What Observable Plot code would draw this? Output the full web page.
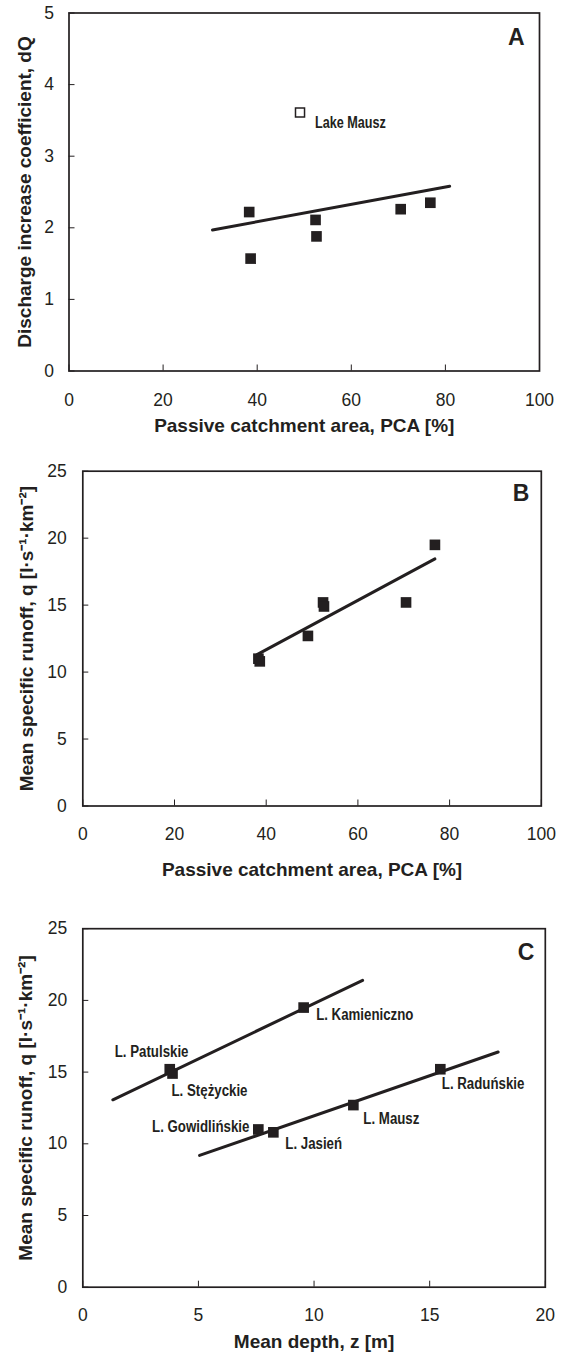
<!DOCTYPE html>
<html>
<head>
<meta charset="utf-8">
<script src="https://cdn.jsdelivr.net/npm/d3@7"></script>
<script src="https://cdn.jsdelivr.net/npm/@observablehq/plot@0.6"></script>
<style>
  html, body { margin: 0; padding: 0; background: #fff; }
  #chart svg { display: block; }
</style>
</head>
<body>
<div id="chart"></div>
<script>
// ---- data ----
const lakes  = ["Patulskie", "Stężyckie", "Gowidlińskie", "Jasień", "Mausz", "Raduńskie", "Kamieniczno"];
const pca    = [52.4, 52.6, 38.3, 38.6, 49.1, 70.5, 76.8];   // Passive catchment area [%]
const dQ     = [2.11, 1.88, 2.22, 1.57, 3.61, 2.26, 2.35];   // discharge increase coefficient
const runoff = [15.2, 14.9, 11.0, 10.8, 12.7, 15.2, 19.5];   // mean specific runoff q
const depth  = [3.76, 3.88, 7.59, 8.24, 11.7, 15.46, 9.55];  // mean depth z [m]
const outlierA = "Mausz";

// trend lines (end points)
const trendA_x = [30.5, 80.9],  trendA_y = [1.97, 2.58];
const trendB_x = [38.0, 76.8],  trendB_y = [11.3, 18.45];
const trendC1_x = [1.3, 12.1],  trendC1_y = [13.07, 21.4];
const trendC2_x = [5.05, 17.96], trendC2_y = [9.19, 16.4];

const ticksPCA = [0, 20, 40, 60, 80, 100];
const ticksDQ = [0, 1, 2, 3, 4, 5];
const ticksQ = [0, 5, 10, 15, 20, 25];
const ticksZ = [0, 5, 10, 15, 20];

// ---- styling ----
const INK = "#231f20";
const FONT = "'Liberation Sans', Arial, Helvetica, sans-serif";
const NARROW = "Liberation Sans, Arial, Helvetica, sans-serif"; // drawn horizontally condensed below
const TICK_FS = 17.5, TITLE_FS = 19;

const idx = lakes.map((_, i) => i);
const pts = (xs, ys) => xs.map((x, i) => ({x, y: ys[i]}));

function axes({xTicks, yTicks, xPad, yPad, xTitle, yTitle, xOff, yOff, letter, letterDx, letterDy}) {
  return [
    Plot.frame({stroke: INK, strokeWidth: 1.7}),
    Plot.axisX(xTicks, {tickSize: -6, tickPadding: xPad + 6, tickFormat: d => String(d), fontSize: TICK_FS, stroke: INK, label: null}),
    Plot.axisY(yTicks, {tickSize: -6, tickPadding: yPad + 6, tickFormat: d => String(d), fontSize: TICK_FS, stroke: INK, label: null}),
    Plot.text([xTitle], {frameAnchor: "bottom", dy: xOff, textAnchor: "middle", lineAnchor: "bottom", fontWeight: "bold", fontSize: TITLE_FS, fill: INK}),
    Plot.text([yTitle], {frameAnchor: "left", rotate: -90, dx: -yOff, textAnchor: "middle", lineAnchor: "top", fontWeight: "bold", fontSize: TITLE_FS, fill: INK}),
    Plot.text([letter], {frameAnchor: "top-right", dx: letterDx, dy: letterDy, textAnchor: "end", lineAnchor: "middle", fontWeight: "bold", fontSize: 23, fill: INK})
  ];
}

const baseStyle = {fontFamily: FONT, color: INK, background: "#fff", overflow: "visible"};

// ---- Panel A ----
const plotA = Plot.plot({
  width: 565, height: 440,
  marginLeft: 68.5, marginRight: 26, marginTop: 12.5, marginBottom: 69.5,
  style: baseStyle,
  x: {domain: [0, 100]},
  y: {domain: [0, 5]},
  marks: [
    ...axes({xTicks: ticksPCA, yTicks: ticksDQ, xPad: 23, yPad: 15,
      xTitle: "Passive catchment area, PCA [%]", yTitle: "Discharge increase coefficient, dQ",
      xOff: 60.5, yOff: 51.8, letter: "A", letterDx: -15, letterDy: 24.5}),
    Plot.line(pts(trendA_x, trendA_y), {x: "x", y: "y", stroke: INK, strokeWidth: 3}),
    Plot.dot(idx.filter(i => lakes[i] !== outlierA), {x: i => pca[i], y: i => dQ[i], symbol: "square", r: 6, fill: INK}),
    Plot.dot(idx.filter(i => lakes[i] === outlierA), {x: i => pca[i], y: i => dQ[i], symbol: "square", r: 5.1, fill: "#fff", stroke: INK, strokeWidth: 1.5}),
    Plot.text(idx.filter(i => lakes[i] === outlierA), {x: i => pca[i], y: i => dQ[i], text: i => "Lake " + lakes[i],
      dx: 15, dy: 10.4, textAnchor: "start", fontFamily: NARROW, fontWeight: "bold", fontSize: 16, fill: INK})
  ]
});

// ---- Panel B ----
const plotB = Plot.plot({
  width: 565, height: 450,
  marginLeft: 82.3, marginRight: 24.2, marginTop: 30.7, marginBottom: 84.5,
  style: baseStyle,
  x: {domain: [0, 100]},
  y: {domain: [0, 25]},
  marks: [
    ...axes({xTicks: ticksPCA, yTicks: ticksQ, xPad: 21.5, yPad: 16,
      xTitle: "Passive catchment area, PCA [%]", yTitle: "Mean specific runoff, q [l·s⁻¹·km⁻²]",
      xOff: 69.5, yOff: 63, letter: "B", letterDx: -12, letterDy: 22}),
    Plot.line(pts(trendB_x, trendB_y), {x: "x", y: "y", stroke: INK, strokeWidth: 3}),
    Plot.dot(idx, {x: i => pca[i], y: i => runoff[i], symbol: "square", r: 6, fill: INK})
  ]
});

// ---- Panel C ----
const place = {
  "Patulskie":    {dx: -55, dy: -18, anchor: "start"},
  "Stężyckie":    {dx: -1,  dy: 17.5, anchor: "start"},
  "Gowidlińskie": {dx: -9,  dy: -3.3, anchor: "end"},
  "Jasień":       {dx: 12,  dy: 11,  anchor: "start"},
  "Mausz":        {dx: 10,  dy: 13.3, anchor: "start"},
  "Raduńskie":    {dx: 1.5, dy: 14.6, anchor: "start"},
  "Kamieniczno":  {dx: 12.5, dy: 6.7, anchor: "start"}
};

const plotC = Plot.plot({
  width: 565, height: 463,
  marginLeft: 82.3, marginRight: 20.2, marginTop: 38.2, marginBottom: 66.3,
  style: baseStyle,
  x: {domain: [0, 20]},
  y: {domain: [0, 25]},
  marks: [
    ...axes({xTicks: ticksZ, yTicks: ticksQ, xPad: 21.6, yPad: 15.6,
      xTitle: "Mean depth, z [m]", yTitle: "Mean specific runoff, q [l·s⁻¹·km⁻²]",
      xOff: 60.3, yOff: 64, letter: "C", letterDx: -11, letterDy: 24}),
    Plot.line(pts(trendC1_x, trendC1_y), {x: "x", y: "y", stroke: INK, strokeWidth: 3}),
    Plot.line(pts(trendC2_x, trendC2_y), {x: "x", y: "y", stroke: INK, strokeWidth: 3}),
    Plot.dot(idx, {x: i => depth[i], y: i => runoff[i], symbol: "square", r: 6, fill: INK}),
    ...idx.map(i => Plot.text([i], {x: j => depth[j], y: j => runoff[j], text: j => "L. " + lakes[j],
      dx: place[lakes[i]].dx, dy: place[lakes[i]].dy, textAnchor: place[lakes[i]].anchor,
      fontFamily: NARROW, fontWeight: "bold", fontSize: 16.8, fill: INK}))
  ]
});

const root = document.getElementById("chart");
root.append(plotA, plotB, plotC);

// condensed (narrow) look for the point labels, scaled about each label's anchor
root.querySelectorAll("g").forEach(g => {
  if (g.getAttribute("font-family") === NARROW) {
    g.querySelectorAll("text").forEach(t => {
      const tr = t.getAttribute("transform") || "";
      t.setAttribute("transform", tr + " scale(0.79,1)");
    });
  }
});
</script>
</body>
</html>
